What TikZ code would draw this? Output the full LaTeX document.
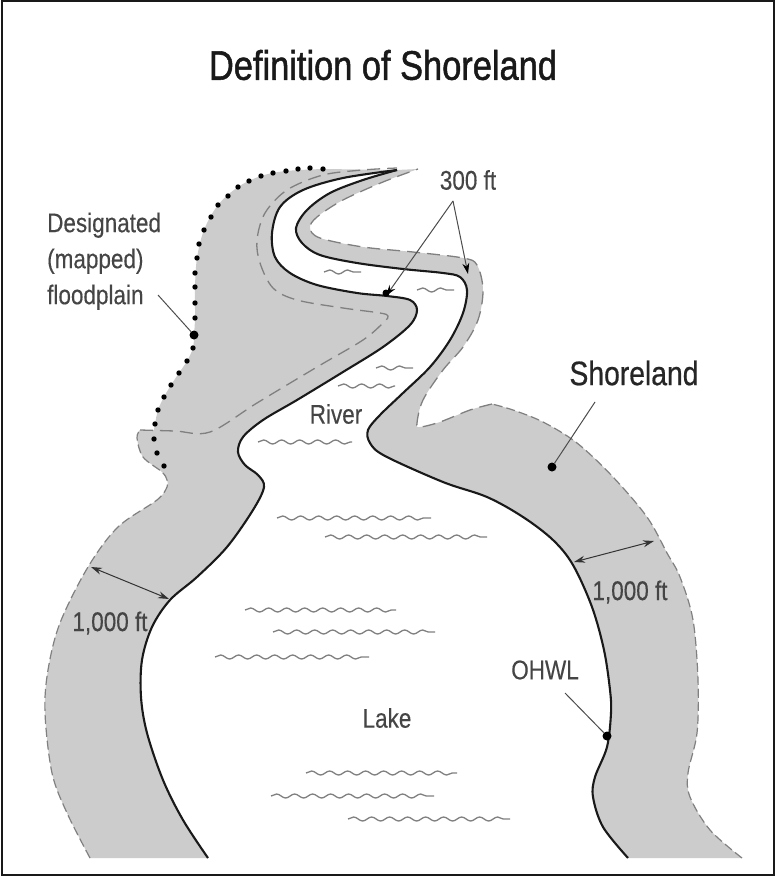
\documentclass[tikz,border=0pt]{standalone}
\usepackage{fontspec}
\setmainfont[FakeBold=0.3]{Liberation Sans}
\newfontfamily\heavyfont[FakeBold=1.3]{Liberation Sans}
\newfontfamily\midfont[FakeBold=0.6]{Liberation Sans}
\usetikzlibrary{arrows.meta,decorations.pathmorphing}
\definecolor{landgray}{gray}{0.80}
\definecolor{linegray}{gray}{0.50}
\definecolor{textgray}{gray}{0.27}
\definecolor{leadgray}{gray}{0.30}
\newcommand\tallt[1]{\scalebox{1}[1.2]{#1}}
% banks run apex -> bottom, shore limits run bottom -> apex
\def\rbank{(397,170) (363,180) (330,193) (307,210) (296,228) (302,243) (320,255) (357,263) (403,269) (443,273) (460,277) (467,290) (463,313) (450,340) (430,367) (403,393) (380,415) (368,430) (370,443) (385,456) (443,482) (487,497) (523,517) (553,540) (573,565) (592,607) (604,650) (610,690) (611,713) (607,747) (595,777) (593,797) (603,827) (628,858)}
\def\lbank{(397,170) (343,178) (303,190) (280,207) (272,233) (275,257) (290,273) (317,285) (357,293) (387,296) (410,300) (417,310) (410,325) (383,347) (343,372) (297,400) (263,420) (243,437) (238,452) (245,465) (258,475) (264,487) (253,510) (227,547) (197,577) (170,600) (152,627) (142,660) (141,697) (147,733) (163,780) (183,820) (208,858)}
\def\rlimita{(742,858) (710,830) (690,797) (688,773) (697,733) (698,680) (693,620) (680,577) (667,553) (647,517) (613,477) (577,443) (543,422) (513,410) (492,404)}
\def\rlimitb{(492,404) (470,410) (440,422) (420,427) (417,423) (423,400) (443,370) (463,347) (478,320) (483,290) (477,265) (463,258) (413,252) (363,247) (320,238) (310,228) (317,217) (343,200) (383,182) (418,169)}
\def\llimit{(90,858) (67,813) (52,773) (45,713) (48,670) (60,623) (88,567) (118,527) (157,500) (167,487) (167,480) (162,472) (143,457) (137,438) (140,430)}
\def\ilimit{(140,430) (175,431) (210,432) (257,403) (317,367) (363,340) (384,322) (388,316) (380,313) (343,308) (297,300) (273,288) (260,263) (257,240) (265,213) (287,190) (323,175) (363,170) (397,168)}
\tikzset{
  bank/.style={line width=2.1pt,black!90},
  limit/.style={line width=1.2pt,linegray,dash pattern=on 9pt off 4pt},
  longlimit/.style={line width=1.3pt,linegray,dash pattern=on 13pt off 7pt},
  wave/.style={line width=1.3pt,linegray,decorate,decoration={snake,segment length=18pt,amplitude=2pt}},
  lead/.style={line width=1pt,leadgray},
  dim/.style={line width=1pt,black!80,{Stealth[length=11pt,width=7pt]}-{Stealth[length=11pt,width=7pt]}},
  tip/.style={line width=1pt,leadgray,-{Stealth[length=11pt,width=7pt,color=black]}},
  lab/.style={inner sep=0pt,text=textgray,font=\fontsize{22.5}{30}\selectfont},
  bigdot/.style={circle,fill=black,inner sep=0pt,minimum size=9pt}
}
\begin{document}
\begin{tikzpicture}[x=1pt,y=-1pt]
\useasboundingbox (0,0) rectangle (776,877);
\fill[white] (0,0) rectangle (776,877);
% gray land
\fill[landgray] plot[smooth,tension=0.55] coordinates {\rbank} -- plot[smooth,tension=0.55] coordinates {\rlimita} -- plot[smooth,tension=0.55] coordinates {\rlimitb} -- cycle;
\fill[landgray] plot[smooth,tension=0.55] coordinates {\lbank} -- plot[smooth,tension=0.55] coordinates {\llimit} -- (154,430) -- plot[smooth,tension=0.55] coordinates {(154,430) (155,424) (158,410) (164,397) (171,385) (179,373) (187,361) (193,348) (194,335) (195,318) (195,287) (197,258) (204,230) (218,205) (238,187) (261,176) (286,171) (323,169)} -- cycle;
% waves
\foreach \xa/\xb/\yy in {324/361/272,417/454/290,376/413/368,338/395/386,258/352/442,277/431/518,325/487/537,245/396/610,273/435/632,215/369/657,306/457/773,271/434/796,348/510/819}
  \draw[wave] (\xa,\yy) -- (\xb,\yy);
% shore limits
\draw[limit] plot[smooth,tension=0.55] coordinates {\rlimita};
\draw[longlimit] plot[smooth,tension=0.55] coordinates {\rlimitb};
\draw[limit] plot[smooth,tension=0.55] coordinates {\llimit};
\draw[longlimit] plot[smooth,tension=0.55] coordinates {\ilimit};
% banks
\draw[bank] plot[smooth,tension=0.55] coordinates {\rbank};
\draw[bank] plot[smooth,tension=0.55] coordinates {\lbank};
% floodplain dots
\foreach \px/\py in {323/169,310/168,298/169,286/171,273/173,261/176,249/181,238/187,228/196,218/205,211/217,204/230,199/244,197/258,195/273,195/287,195/303,195/318,194/335,193/348,187/361,179/373,171/385,164/397,158/410,155/424,154/439,157/453,164/466}
  \fill[black] (\px,\py) circle (2.7pt);
% labels
\node[inner sep=0pt,text=black!90,font=\fontsize{34.4}{40}\heavyfont] (title) at (383,65) {\tallt{Definition of Shoreland}};
\node[lab] (t300) at (468,180) {\tallt{300 ft}};
\node[lab,anchor=west] (fp) at (47,261) {\tallt{\begin{tabular}{@{}l@{}}Designated\\(mapped)\\floodplain\end{tabular}}};
\node[inner sep=0pt,text=black!85,font=\fontsize{28.3}{32}\midfont] (shore) at (634,373) {\tallt{Shoreland}};
\node[lab] (river) at (336,414) {\tallt{River}};
\node[lab] (lake) at (387,718) {\tallt{Lake}};
\node[lab] (ohwl) at (545,670) {\tallt{OHWL}};
\node[lab] (ftl) at (110,623) {\tallt{1,000 ft}};
\node[lab] (ftr) at (630,592) {\tallt{1,000 ft}};
% leaders and markers
\coordinate (fork) at (453,201);
\coordinate (tipa) at (386,296);
\coordinate (tipb) at (468,274);
\draw[tip] (fork) -- (tipa);
\draw[tip] (fork) -- (tipb);
\fill[black] (tipa) ++(0,-3) circle (3.5pt);
\node[bigdot] (fpdot) at (194,335) {};
\coordinate (fpfrom) at (158,295);
\draw[lead] (fpfrom) -- (fpdot);
\node[bigdot] (shdot) at (552,467) {};
\coordinate (shfrom) at (595,402);
\draw[lead] (shfrom) -- (shdot);
\node[bigdot] (ohdot) at (607,736) {};
\coordinate (ohfrom) at (565,693);
\draw[lead] (ohfrom) -- (ohdot);
\coordinate (dla) at (91,567);
\coordinate (dlb) at (169,599);
\coordinate (dra) at (574,562);
\coordinate (drb) at (654,541);
\draw[dim] (dla) -- (dlb);
\draw[dim] (dra) -- (drb);
% frame
\draw[line width=2pt,black!90] (1.5,1.2) rectangle (774,875);
\end{tikzpicture}
\end{document}
